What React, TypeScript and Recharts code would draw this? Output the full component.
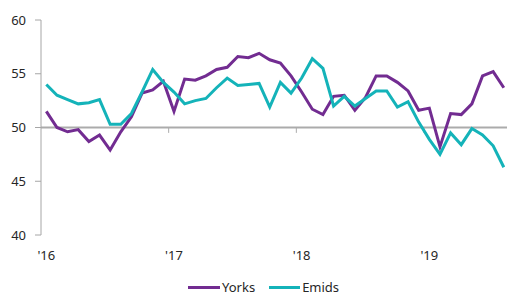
import React from "react";
import { LineChart, Line, XAxis, YAxis, ReferenceLine } from "recharts";

const months: number[] = Array.from({ length: 44 }, (_, i) => i);
const yorks: number[] = [
  51.5, 50.0, 49.6, 49.8, 48.7, 49.3, 47.9, 49.6, 51.0, 53.2, 53.5, 54.3,
  51.5, 54.5, 54.4, 54.8, 55.4, 55.6, 56.6, 56.5, 56.9, 56.3, 56.0, 54.8,
  53.3, 51.7, 51.2, 52.9, 53.0, 51.6, 52.8, 54.8, 54.8, 54.2, 53.4, 51.6,
  51.8, 48.2, 51.3, 51.2, 52.2, 54.8, 55.2, 53.7,
];
const emids: number[] = [
  54.0, 53.0, 52.6, 52.2, 52.3, 52.6, 50.3, 50.3, 51.3, 53.3, 55.4, 54.2,
  53.3, 52.2, 52.5, 52.7, 53.7, 54.6, 53.9, 54.0, 54.1, 51.9, 54.2, 53.2,
  54.6, 56.4, 55.5, 52.0, 52.9, 52.0, 52.7, 53.4, 53.4, 51.9, 52.4, 50.5,
  48.9, 47.5, 49.5, 48.4, 49.9, 49.3, 48.3, 46.3,
];
const yearTickIdx: number[] = [0, 12, 24, 36];
const yearLabels: string[] = ["'16", "'17", "'18", "'19"];
const yTicks: number[] = [40, 45, 50, 55, 60];
const yearBoundaries: number[] = [11.5, 23.5, 35.5];

const data = months.map((m, i) => ({ m, yorks: yorks[i], emids: emids[i] }));

const PURPLE = "#722C91";
const TEAL = "#14B3B9";
const FONT = "'Noto Sans', sans-serif";

export default function App() {
  return (
    <div style={{ position: "absolute", left: 0, top: 0, width: 507, height: 295, fontFamily: FONT }}>
      <LineChart width={507} height={295} data={data} margin={{ top: 20, right: 0, bottom: 0, left: 0 }}>
        <XAxis
          dataKey="m"
          type="number"
          domain={[-0.5, 43.3]}
          ticks={yearTickIdx}
          tickFormatter={(v: number) => yearLabels[yearTickIdx.indexOf(v)] ?? ""}
          axisLine={false}
          tickLine={false}
          tickMargin={10}
          height={60}
          tick={{ fill: "#262626", fontSize: 13, fontFamily: FONT }}
          allowDataOverflow
        />
        <YAxis
          type="number"
          domain={[40, 60]}
          ticks={yTicks}
          width={41}
          tickSize={6}
          tickMargin={9}
          axisLine={{ stroke: "#A6A6A6", strokeWidth: 1 }}
          tickLine={{ stroke: "#A6A6A6" }}
          tick={{ fill: "#262626", fontSize: 13, fontFamily: FONT }}
        />
        <ReferenceLine y={50} stroke="#ABABAB" strokeWidth={2} />
        {yearBoundaries.map((b) => (
          <ReferenceLine
            key={b}
            segment={[{ x: b, y: 50 }, { x: b, y: 49.5 }]}
            stroke="#ABABAB"
            strokeWidth={1}
          />
        ))}
        <Line
          dataKey="yorks"
          stroke={PURPLE}
          strokeWidth={3}
          dot={false}
          isAnimationActive={false}
          strokeLinejoin="miter"
        />
        <Line
          dataKey="emids"
          stroke={TEAL}
          strokeWidth={3}
          dot={false}
          isAnimationActive={false}
          strokeLinejoin="miter"
        />
      </LineChart>
      <div style={{ position: "absolute", left: 188, top: 278, height: 18, display: "flex", alignItems: "center", fontSize: 13, color: "#262626" }}>
        <span style={{ display: "inline-block", width: 32, height: 3, background: PURPLE, marginRight: 2 }} />
        <span>Yorks</span>
        <span style={{ display: "inline-block", width: 31, height: 3, background: TEAL, marginLeft: 14, marginRight: 2 }} />
        <span>Emids</span>
      </div>
    </div>
  );
}
